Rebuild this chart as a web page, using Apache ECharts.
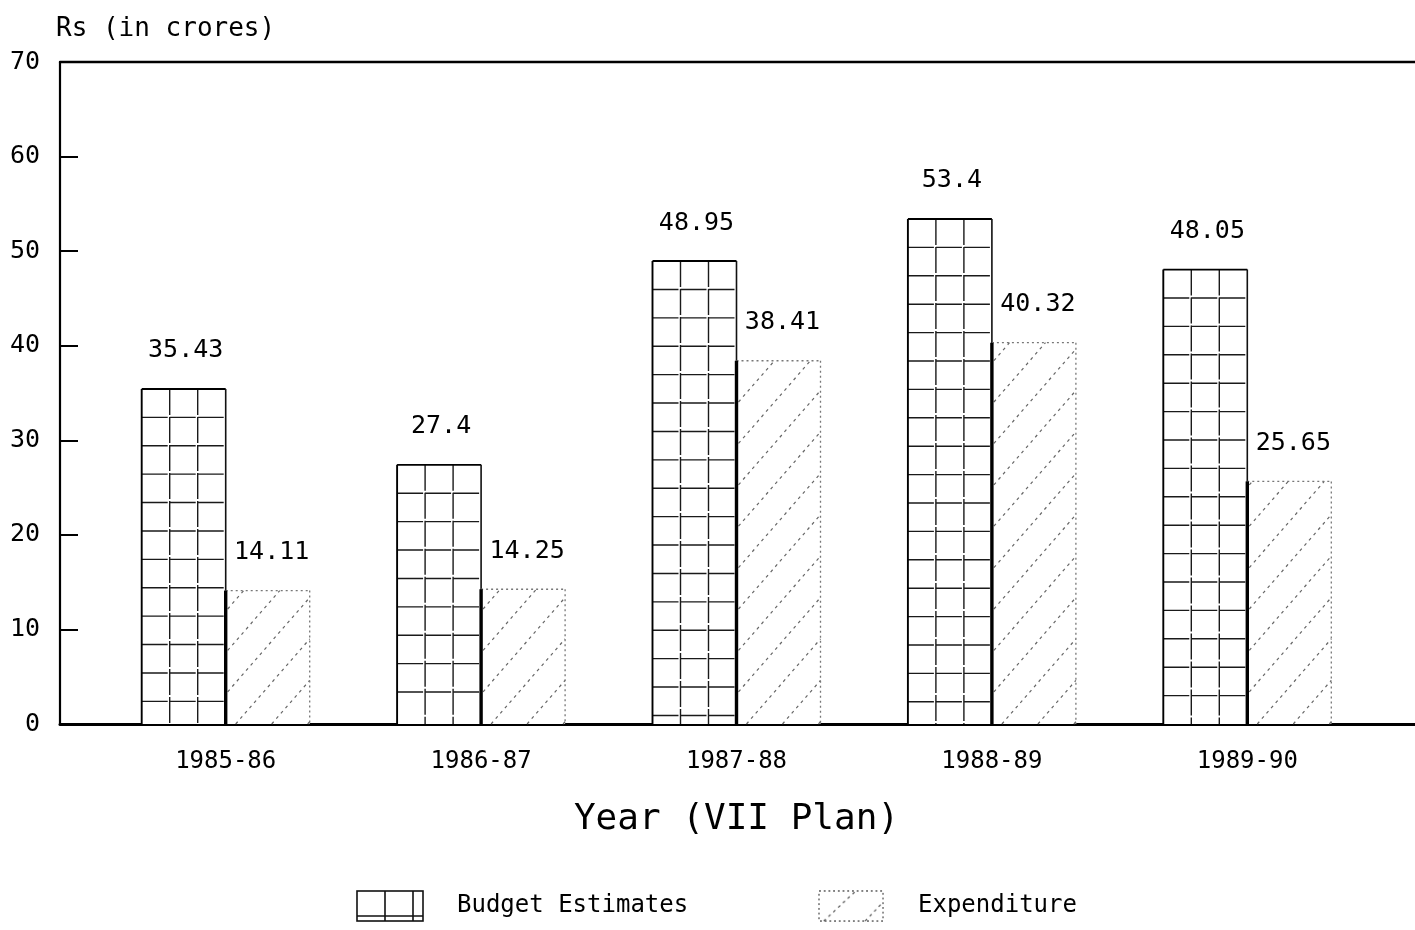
<!DOCTYPE html>
<html>
<head>
<meta charset="utf-8">
<title>Budget Estimates and Expenditure, VII Plan</title>
<script src="https://cdn.jsdelivr.net/npm/echarts@6/dist/echarts.min.js"></script>
<style>
  html, body { margin: 0; padding: 0; background: #fff; }
  #chart { width: 1415px; height: 930px; }
</style>
</head>
<body>
<div id="chart"></div>
<script>
// Plan years and amounts (Rs in crores)
const years = ['1985-86', '1986-87', '1987-88', '1988-89', '1989-90'];
const budgetEstimates = [35.43, 27.4, 48.95, 53.4, 48.05];
const expenditure = [14.11, 14.25, 38.41, 40.32, 25.65];
const yMin = 0, yMax = 70, yStep = 10;

const FONT = '"DejaVu Sans Mono", "Liberation Mono", monospace';
const SIZE = { bar: 25, ytick: 25, xtick: 24, xname: 36, yname: 26, legend: 24, xMargin: 26, xNameGap: 78 };

const measureCtx = document.createElement('canvas').getContext('2d');
function textWidth(str, size) {
  measureCtx.font = size + 'px ' + FONT;
  return measureCtx.measureText(str).width;
}

const BAR_W = 84;       // width of each bar in px
const CELL = 28.4;      // square cell of the grid fill
const HATCH_SLOPE = 1.15;
const HATCH_GAP = 36;

function line(x1, y1, x2, y2, style) {
  return { type: 'line', shape: { x1, y1, x2, y2 }, style: Object.assign({ fill: null }, style) };
}

function valueLabel(val, x, y) {
  return {
    type: 'text',
    style: { text: String(val), x: x, y: y, align: 'center', verticalAlign: 'middle',
             font: SIZE.bar + 'px ' + FONT, fill: '#000' }
  };
}

// Budget bar: white box, square grid drawn from the top down, dark outline
function renderBudget(params, api) {
  const idx = api.value(0), val = api.value(1);
  const top = api.coord([idx, val]);
  const base = api.coord([idx, 0]);
  const x0 = top[0] - BAR_W, x1 = top[0];
  const y0 = top[1], y1 = base[1];
  const kids = [];
  kids.push({ type: 'rect', shape: { x: x0, y: y0, width: BAR_W, height: y1 - y0 }, style: { fill: '#fff' } });
  const thin = { stroke: '#1a1a1a', lineWidth: 1.4, lineDash: [26, 2] };
  for (let k = 1; k < 3; k++) {
    const x = x0 + k * BAR_W / 3;
    kids.push(line(x, y0, x, y1, thin));
  }
  for (let y = y0 + CELL; y < y1 - 5; y += CELL) {
    kids.push(line(x0, y, x1, y, thin));
  }
  const outer = { stroke: '#000', lineWidth: 1.9 };
  kids.push(line(x0, y0, x1, y0, outer));
  kids.push(line(x0, y0, x0, y1, outer));
  kids.push(line(x1, y0, x1, y1, { stroke: '#111', lineWidth: 1.6 }));
  kids.push(valueLabel(val, (x0 + x1) / 2 + 2, y0 - 38));
  return { type: 'group', children: kids };
}

// Expenditure bar: dotted outline with sparse diagonal hatching, heavy left edge
function renderExpenditure(params, api) {
  const idx = api.value(0), val = api.value(1);
  const top = api.coord([idx, val]);
  const base = api.coord([idx, 0]);
  const x0 = top[0], x1 = top[0] + BAR_W;
  const y0 = top[1], y1 = base[1];
  const h = y1 - y0;
  const kids = [];
  kids.push({ type: 'rect', shape: { x: x0, y: y0, width: BAR_W, height: h }, style: { fill: '#fff' } });
  const hatch = { stroke: '#666', lineWidth: 1.2, lineDash: [3, 4] };
  const reach = h / HATCH_SLOPE;
  for (let b = x0 + 10 - Math.ceil((reach + 10) / HATCH_GAP) * HATCH_GAP; b < x1; b += HATCH_GAP) {
    const xa = Math.max(b, x0 + 2), xb = Math.min(b + reach, x1);
    if (xb - xa < 1) continue;
    kids.push(line(xa, y1 - HATCH_SLOPE * (xa - b), xb, y1 - HATCH_SLOPE * (xb - b), hatch));
  }
  const edge = { stroke: '#777', lineWidth: 1.3, lineDash: [2, 3] };
  kids.push(line(x0, y0, x1, y0, edge));
  kids.push(line(x1, y0, x1, y1, edge));
  kids.push(line(x0, y0, x0, y1, { stroke: '#000', lineWidth: 3.4 }));
  kids.push(valueLabel(val, (x0 + x1) / 2 + 4, y0 - 38));
  return { type: 'group', children: kids };
}

// Legend swatches
function budgetIcon() {
  const c = document.createElement('canvas');
  c.width = 68; c.height = 32;
  const g = c.getContext('2d');
  g.strokeStyle = '#111'; g.lineWidth = 1.6;
  g.strokeRect(1, 1, 66, 30);
  g.beginPath();
  g.moveTo(29, 1); g.lineTo(29, 31);
  g.moveTo(57, 1); g.lineTo(57, 31);
  g.moveTo(1, 26); g.lineTo(67, 26);
  g.stroke();
  return 'image://' + c.toDataURL();
}
function expenditureIcon() {
  const c = document.createElement('canvas');
  c.width = 70; c.height = 34;
  const g = c.getContext('2d');
  g.strokeStyle = '#555'; g.lineWidth = 1.3;
  g.setLineDash([2, 3]);
  g.strokeRect(1, 1, 68, 32);
  g.setLineDash([3, 4]);
  g.beginPath();
  g.moveTo(6, 33); g.lineTo(40, 1);
  g.moveTo(50, 33); g.lineTo(69, 13);
  g.stroke();
  return 'image://' + c.toDataURL();
}

const LEGEND_LEFT = 356, LEGEND_TEXT_PAD = 28, SECOND_ICON_X = 817;
const legendGap = SECOND_ICON_X - (LEGEND_LEFT + 68 + 5 + LEGEND_TEXT_PAD + textWidth('Budget Estimates', SIZE.legend));

const chart = echarts.init(document.getElementById('chart'), null, { renderer: 'canvas' });

const seriesData = (vals) => vals.map((v, i) => [i, v]);

chart.setOption({
  backgroundColor: '#fff',
  animation: false,
  grid: [
    { left: 60, right: 0, top: 62, bottom: 206 },
    { left: 98, right: 40, top: 62, bottom: 206 }
  ],
  xAxis: [
    {
      gridIndex: 0, type: 'value', min: 0, max: 1, position: 'bottom',
      axisLine: { show: true, lineStyle: { color: '#000', width: 3 } },
      axisTick: { show: false }, axisLabel: { show: false }, splitLine: { show: false }
    },
    {
      gridIndex: 0, type: 'value', min: 0, max: 1, position: 'top',
      axisLine: { show: true, lineStyle: { color: '#000', width: 2.4 } },
      axisTick: { show: false }, axisLabel: { show: false }, splitLine: { show: false }
    },
    {
      gridIndex: 1, type: 'category', data: years,
      axisLine: { show: false }, axisTick: { show: false }, splitLine: { show: false },
      axisLabel: { fontFamily: FONT, fontSize: SIZE.xtick, color: '#000', margin: SIZE.xMargin },
      name: 'Year (VII Plan)', nameLocation: 'middle', nameGap: SIZE.xNameGap,
      nameTextStyle: { fontFamily: FONT, fontSize: SIZE.xname, color: '#000' }
    }
  ],
  yAxis: [
    {
      gridIndex: 0, type: 'value', min: yMin, max: yMax, interval: yStep,
      axisLine: { show: true, lineStyle: { color: '#000', width: 2.2 } },
      axisTick: { show: true, inside: true, length: 18, lineStyle: { color: '#000', width: 2 } },
      axisLabel: { fontFamily: FONT, fontSize: SIZE.ytick, color: '#000', margin: 20 },
      splitLine: { show: false },
      name: 'Rs (in crores)', nameLocation: 'end', nameGap: 20,
      nameTextStyle: { fontFamily: FONT, fontSize: SIZE.yname, color: '#000', align: 'left', verticalAlign: 'bottom', padding: [0, 0, 0, -4] }
    },
    { gridIndex: 1, type: 'value', min: yMin, max: yMax, show: false }
  ],
  legend: {
    left: LEGEND_LEFT, top: 890, orient: 'horizontal', padding: 0,
    itemWidth: 68, itemHeight: 32, itemGap: legendGap, selectedMode: false,
    textStyle: { fontFamily: FONT, fontSize: SIZE.legend, color: '#000', padding: [0, 0, 0, LEGEND_TEXT_PAD] },
    data: [
      { name: 'Budget Estimates', icon: budgetIcon() },
      { name: 'Expenditure', icon: expenditureIcon() }
    ]
  },
  series: [
    {
      name: 'Budget Estimates', type: 'custom', xAxisIndex: 2, yAxisIndex: 1,
      renderItem: renderBudget, encode: { x: 0, y: 1 }, data: seriesData(budgetEstimates),
      itemStyle: { color: '#000' }, clip: false
    },
    {
      name: 'Expenditure', type: 'custom', xAxisIndex: 2, yAxisIndex: 1,
      renderItem: renderExpenditure, encode: { x: 0, y: 1 }, data: seriesData(expenditure),
      itemStyle: { color: '#666' }, clip: false
    }
  ]
});
</script>
</body>
</html>
